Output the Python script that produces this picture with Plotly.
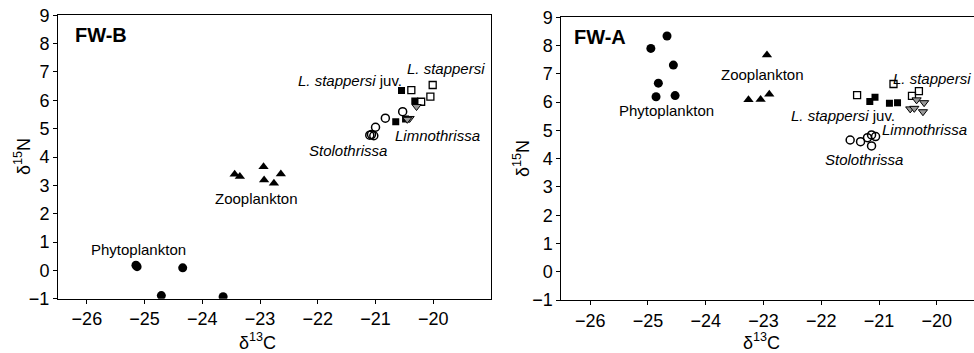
import plotly.graph_objects as go

# ---------------- FW-B (left panel) ----------------
b_phyto_x = [-25.15, -25.13, -24.34, -24.71, -23.64]
b_phyto_y = [0.18, 0.13, 0.09, -0.89, -0.93]
b_zoo_x = [-23.44, -23.35, -22.94, -22.93, -22.76, -22.64]
b_zoo_y = [3.39, 3.31, 3.66, 3.19, 3.07, 3.40]
b_stolo_x = [-21.1, -21.07, -21.03, -21.0, -20.83, -20.53]
b_stolo_y = [4.77, 4.79, 4.75, 5.05, 5.37, 5.60]
b_juv_x = [-20.55, -20.32, -20.65, -20.48]
b_juv_y = [6.35, 5.98, 5.24, 5.34]
b_lst_x = [-20.38, -20.01, -20.05, -20.21]
b_lst_y = [6.36, 6.54, 6.13, 5.95]
b_limno_x = [-20.29, -20.41, -20.45]
b_limno_y = [5.78, 5.36, 5.33]

# ---------------- FW-A (right panel) ----------------
a_phyto_x = [-24.95, -24.67, -24.56, -24.82, -24.86, -24.53]
a_phyto_y = [7.90, 8.34, 7.31, 6.67, 6.19, 6.23]
a_zoo_x = [-22.94, -23.26, -23.05, -22.90]
a_zoo_y = [7.67, 6.08, 6.09, 6.28]
a_stolo_x = [-21.50, -21.32, -21.20, -21.13, -21.06, -21.13]
a_stolo_y = [4.66, 4.60, 4.74, 4.84, 4.78, 4.45]
a_juv_x = [-21.16, -21.07, -20.82, -20.68]
a_juv_y = [6.02, 6.17, 5.96, 5.98]
a_lst_x = [-21.38, -20.75, -20.43, -20.31]
a_lst_y = [6.25, 6.64, 6.22, 6.39]
a_limno_x = [-20.35, -20.22, -20.46, -20.39, -20.24]
a_limno_y = [6.08, 5.98, 5.76, 5.78, 5.66]

x_ticks = [-26, -25, -24, -23, -22, -21, -20]
y_ticks = [-1, 0, 1, 2, 3, 4, 5, 6, 7, 8, 9]

# labels: (text, x, y, anchor, size)
b_labels = [
    ("<b>FW-B</b>", -26.24, 8.30, "left", 20),
    ("<i>L. stappersi</i>", -19.78, 7.14, "center", 15),
    ("<i>L. stappersi</i> juv.", -21.45, 6.71, "center", 15),
    ("<i>Limnothrissa</i>", -19.92, 4.77, "center", 15),
    ("<i>Stolothrissa</i>", -21.47, 4.24, "center", 15),
    ("Zooplankton", -23.06, 2.54, "center", 15),
    ("Phytoplankton", -25.10, 0.74, "center", 15),
]
a_labels = [
    ("<b>FW-A</b>", -26.31, 8.31, "left", 20),
    ("Phytoplankton", -24.68, 5.72, "center", 15),
    ("Zooplankton", -23.01, 6.96, "center", 15),
    ("<i>L. stappersi</i>", -19.38, 6.84, "right", 15),
    ("<i>L. stappersi</i> juv.", -21.63, 5.54, "center", 15),
    ("<i>Limnothrissa</i>", -20.21, 5.04, "center", 15),
    ("<i>Stolothrissa</i>", -21.26, 3.98, "center", 15),
]

FONT = "Liberation Sans, Arial, sans-serif"

fig = go.Figure()

def add_groups(xa, ya, groups):
    for gx, gy, sym, size, fill, line_w in groups:
        fig.add_trace(go.Scatter(
            x=gx, y=gy, mode="markers", xaxis=xa, yaxis=ya, showlegend=False,
            marker=dict(symbol=sym, size=size, color=fill,
                        line=dict(color="black", width=line_w))))

add_groups("x", "y", [
    (b_phyto_x, b_phyto_y, "circle", 9, "black", 0),
    (b_zoo_x, b_zoo_y, "triangle-up", 9, "black", 0),
    (b_stolo_x, b_stolo_y, "circle-open", 8, "black", 1.5),
    (b_lst_x, b_lst_y, "square-open", 7, "black", 1.3),
    (b_juv_x, b_juv_y, "square", 7, "black", 0),
    (b_limno_x, b_limno_y, "triangle-down", 8, "#999999", 1),
])
add_groups("x2", "y2", [
    (a_phyto_x, a_phyto_y, "circle", 9, "black", 0),
    (a_zoo_x, a_zoo_y, "triangle-up", 9, "black", 0),
    (a_stolo_x, a_stolo_y, "circle-open", 8, "black", 1.5),
    (a_lst_x, a_lst_y, "square-open", 7, "black", 1.3),
    (a_juv_x, a_juv_y, "square", 7, "black", 0),
    (a_limno_x, a_limno_y, "triangle-down", 8, "#999999", 1),
])

annotations = []
for xr, yr, labs in (("x", "y", b_labels), ("x2", "y2", a_labels)):
    for t, lx, ly, anc, fs in labs:
        annotations.append(dict(text=t, x=lx, y=ly, xref=xr, yref=yr,
                                xanchor=anc, yanchor="middle", showarrow=False,
                                font=dict(size=fs, color="black", family=FONT)))

# axis titles as paper annotations
W, H = 974, 353
def px(xp, yp):
    return xp / W, 1 - yp / H
for t, xp, yp, ang in (("δ<sup>13</sup>C", 257, 341, 0), ("δ<sup>13</sup>C", 761, 341, 0),
                       ("δ<sup>15</sup>N", 22, 157, -90), ("δ<sup>15</sup>N", 521, 159, -90)):
    xx, yy = px(xp, yp)
    annotations.append(dict(text=t, x=xx, y=yy, xref="paper", yref="paper",
                            xanchor="center", yanchor="middle", showarrow=False,
                            textangle=ang, font=dict(size=18, color="black", family=FONT)))

axis_common = dict(showgrid=False, zeroline=False, showline=True, linecolor="black",
                   linewidth=1, ticks="outside", ticklen=4, tickcolor="black",
                   automargin=False,
                   tickfont=dict(size=18, color="black", family=FONT))

fig.update_layout(
    width=W, height=H, margin=dict(l=0, r=0, t=0, b=0, pad=0, autoexpand=False),
    plot_bgcolor="white", paper_bgcolor="white",
    annotations=annotations,
    xaxis=dict(domain=[58 / W, 491 / W], range=[-26.5, -19], tickvals=x_ticks,
               anchor="y", mirror=True, **axis_common),
    yaxis=dict(domain=[1 - 298.7 / H, 1 - 15.3 / H], range=[-1, 9], tickvals=y_ticks,
               anchor="x", mirror=True, **axis_common),
    xaxis2=dict(domain=[561.3 / W, 1.0], range=[-26.5, -26 + (974 - 590) / 57.8],
                tickvals=x_ticks, anchor="y2", mirror=True, **axis_common),
    yaxis2=dict(domain=[1 - 300 / H, 1 - 17.3 / H], range=[-1, 9], tickvals=y_ticks,
                anchor="x2", mirror=False, **axis_common),
)

fig.write_html("out.html", config={"displayModeBar": False},
               post_script="document.body.style.margin='0';document.body.style.overflow='hidden';")
